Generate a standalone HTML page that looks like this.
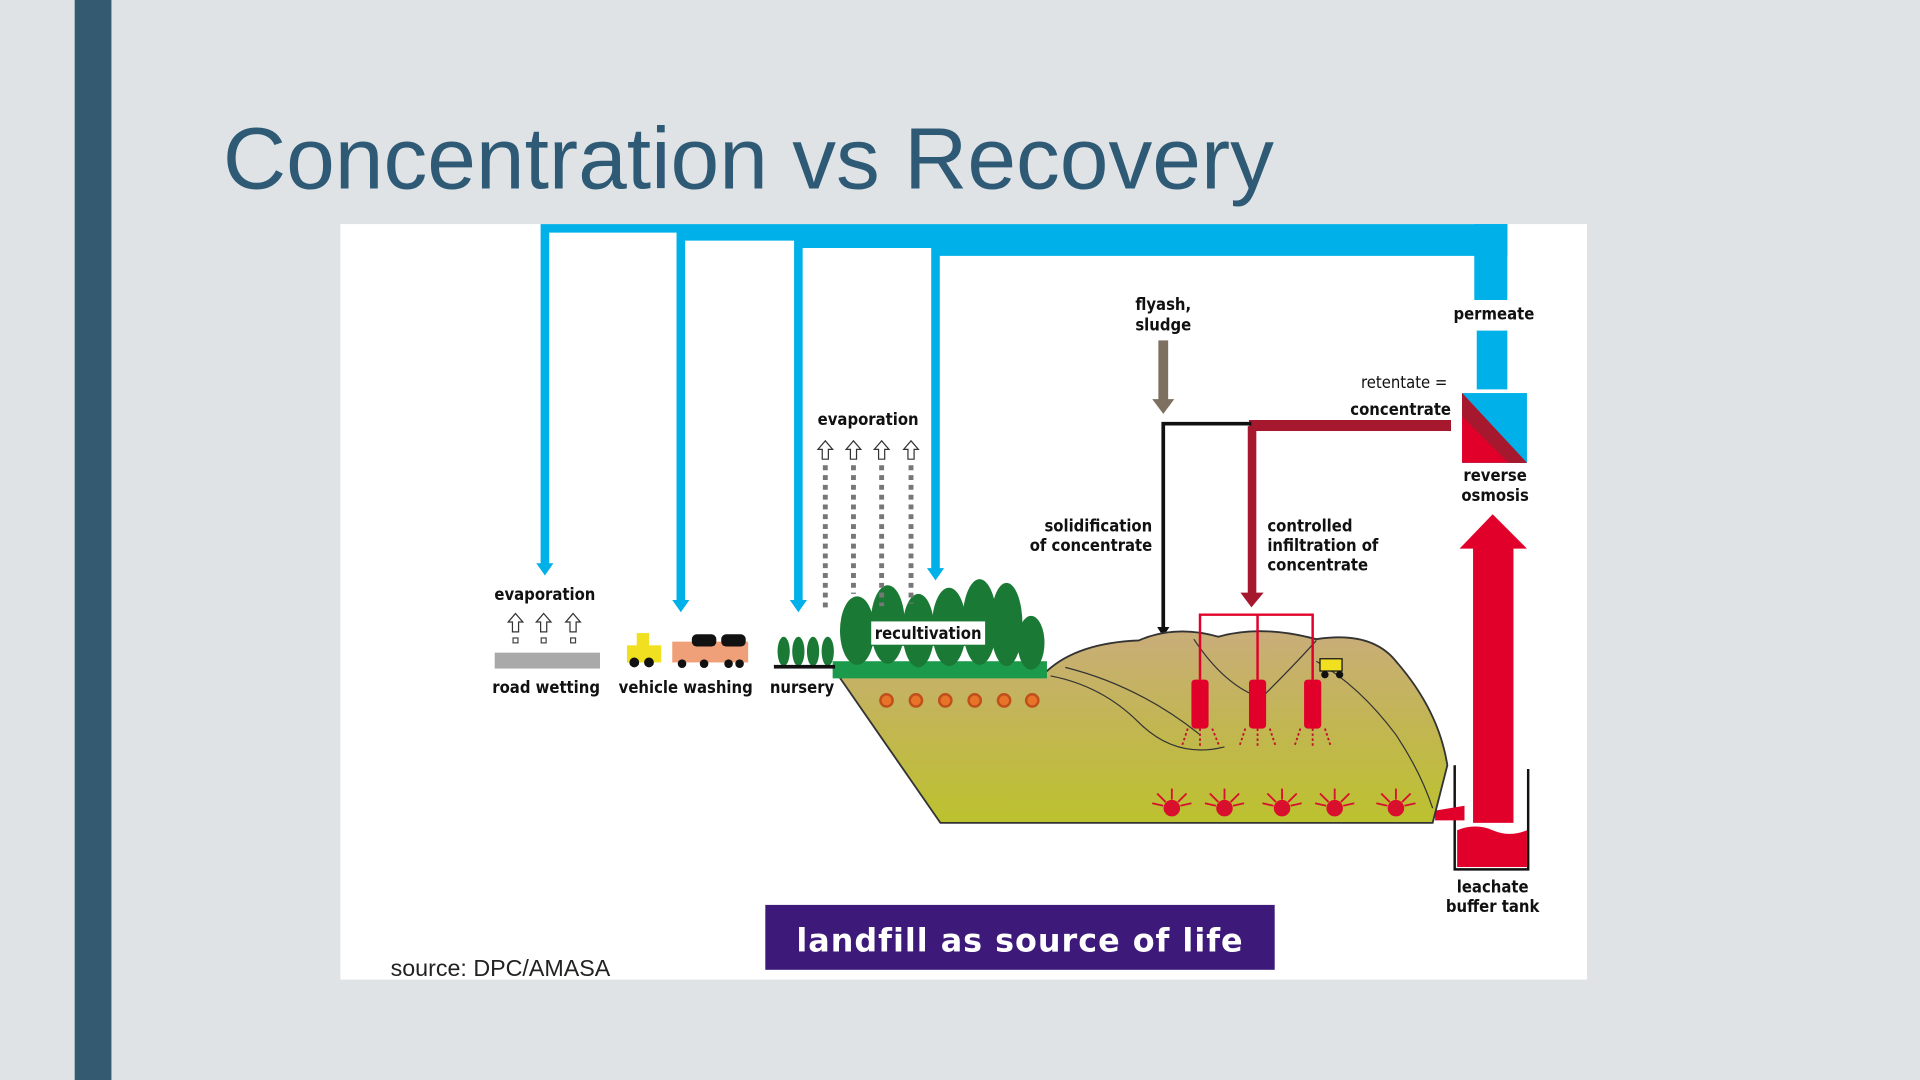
<!DOCTYPE html>
<html><head><meta charset="utf-8"><style>
html,body{margin:0;padding:0;width:1920px;height:1080px;overflow:hidden;background:#dfe3e6}
svg{display:block}
.l{font-family:"DejaVu Sans Condensed","Liberation Sans Narrow","Liberation Sans",sans-serif;font-weight:bold;font-size:13.5px;fill:#111}
</style></head><body>
<svg width="1920" height="1080" viewBox="0 0 1568 882" xmlns="http://www.w3.org/2000/svg">
<defs>
<linearGradient id="lf" x1="0" y1="0" x2="0" y2="1">
<stop offset="0" stop-color="#c9ad7a"/><stop offset="0.5" stop-color="#c2b652"/><stop offset="1" stop-color="#bcc22e"/></linearGradient>
<g id="ua"><path d="M0,-8 L6,-1 L2.5,-1 L2.5,7 L-2.5,7 L-2.5,-1 L-6,-1 Z" fill="#fff" stroke="#333" stroke-width="1"/></g>
<g id="burst" fill="#d8102e" stroke="#d8102e" stroke-width="1.5"><circle r="6"/><line x1="-12" y1="-12" x2="-5" y2="-5"/><line x1="12" y1="-12" x2="5" y2="-5"/><line x1="0" y1="-16" x2="0" y2="-7"/><line x1="-16" y1="-4" x2="-7" y2="-2"/><line x1="16" y1="-4" x2="7" y2="-2"/></g>
</defs>
<rect x="0" y="0" width="1568" height="882" fill="#dfe3e6"/>
<rect x="61" y="0" width="30" height="882" fill="#345a72"/>
<text x="182" y="154" font-family="Liberation Sans,sans-serif" font-size="71.5" fill="#2f5a75">Concentration vs Recovery</text>
<rect x="278" y="183" width="1018" height="617" fill="#fff"/>

<g stroke="#00b0e8" stroke-width="7" fill="none">
<polyline points="445,462 445,186.5 1231,186.5"/>
<polyline points="556,492 556,193 1231,193"/>
<polyline points="652,492 652,199 1231,199"/>
<polyline points="764,466 764,205.5 1231,205.5"/>
</g>
<rect x="1204" y="183" width="27" height="62" fill="#00b0e8"/>
<rect x="1206" y="270" width="25" height="48" fill="#00b0e8"/>
<g fill="#00b0e8">
<polygon points="438,460 452,460 445,470"/><polygon points="549,490 563,490 556,500"/>
<polygon points="645,490 659,490 652,500"/><polygon points="757,464 771,464 764,474"/>
</g>

<rect x="1194" y="321" width="53" height="57" fill="#00b0e8"/>
<polygon points="1194,321 1247,378 1194,378" fill="#e0002a"/>
<polygon points="1194,321 1247,378 1232,378 1194,340" fill="#a6182e"/>
<rect x="1203" y="447" width="33" height="225" fill="#e0002a"/>
<polygon points="1192,448 1247,448 1219,420" fill="#e0002a"/>
<path d="M1190,678 Q1205,672 1219,678 T1247,678 L1247,708 L1190,708 Z" fill="#e0002a"/>
<polyline points="1188,625 1188,710 1248,710 1248,628" fill="none" stroke="#111" stroke-width="2"/>
<path d="M1172,662 L1196,658 L1196,670 L1172,670Z" fill="#e0002a"/>

<rect x="1020" y="343" width="165" height="9" fill="#a6182e"/>
<polyline points="950,518 950,346 1022,346" fill="none" stroke="#111" stroke-width="3"/>
<polygon points="945,512 955,512 950,520" fill="#111"/>
<rect x="1019" y="348" width="7" height="138" fill="#a6182e"/>
<polygon points="1013,484 1032,484 1022,496" fill="#a6182e"/>
<rect x="946" y="278" width="8" height="50" fill="#7d7060"/>
<polygon points="941,326 959,326 950,338" fill="#7d7060"/>

<path d="M680,545 L855,548 Q880,525 930,523 Q960,510 995,520 Q1030,510 1075,522 Q1120,515 1140,540 Q1175,580 1182,625 L1170,672 L768,672 Z" fill="url(#lf)" stroke="#333" stroke-width="1.5"/>
<g fill="none" stroke="#333" stroke-width="1">
<path d="M858,552 Q900,560 930,590 Q960,620 1000,610"/>
<path d="M870,545 Q930,560 980,600"/>
<path d="M975,522 Q1000,560 1030,570 Q1060,540 1075,523"/>
<path d="M1075,540 Q1110,560 1140,600 Q1160,630 1170,660"/>
</g>
<rect x="680" y="540" width="175" height="14" fill="#1a9a4a"/>
<g fill="#1a7a35">
<ellipse cx="700" cy="515" rx="14" ry="28"/><ellipse cx="725" cy="510" rx="14" ry="32"/><ellipse cx="750" cy="515" rx="13" ry="30"/>
<ellipse cx="775" cy="512" rx="14" ry="32"/><ellipse cx="800" cy="508" rx="14" ry="35"/><ellipse cx="822" cy="510" rx="13" ry="34"/>
<ellipse cx="842" cy="525" rx="11" ry="22"/>
<ellipse cx="640" cy="532" rx="5" ry="12"/><ellipse cx="652" cy="532" rx="5" ry="12"/><ellipse cx="664" cy="532" rx="5" ry="12"/><ellipse cx="676" cy="532" rx="5" ry="12"/>
</g>
<rect x="632" y="543" width="50" height="3" fill="#111"/>
<rect x="711" y="507" width="94" height="20" fill="#fff" stroke="#1a7a35"/>
<text class="l" x="758" y="522" text-anchor="middle">recultivation</text>
<g fill="#e8742a" stroke="#c0501a" stroke-width="2">
<circle cx="724" cy="572" r="5"/><circle cx="748" cy="572" r="5"/><circle cx="772" cy="572" r="5"/><circle cx="796" cy="572" r="5"/><circle cx="820" cy="572" r="5"/><circle cx="843" cy="572" r="5"/>
</g>
<polyline points="980,555 980,502 1072,502 1072,555" fill="none" stroke="#e0002a" stroke-width="2"/>
<line x1="1027" y1="502" x2="1027" y2="555" stroke="#e0002a" stroke-width="2"/>
<g fill="#e0002a"><rect x="973" y="555" width="14" height="40" rx="3"/><rect x="1020" y="555" width="14" height="40" rx="3"/><rect x="1065" y="555" width="14" height="40" rx="3"/></g>
<g stroke="#c0102a" stroke-width="1.5" stroke-dasharray="2,2">
<line x1="970" y1="595" x2="965" y2="610"/><line x1="980" y1="595" x2="980" y2="610"/><line x1="990" y1="595" x2="996" y2="610"/>
<line x1="1017" y1="595" x2="1012" y2="610"/><line x1="1027" y1="595" x2="1027" y2="610"/><line x1="1037" y1="595" x2="1042" y2="610"/>
<line x1="1062" y1="595" x2="1057" y2="610"/><line x1="1072" y1="595" x2="1072" y2="610"/><line x1="1082" y1="595" x2="1087" y2="610"/>
</g>
<use href="#burst" x="957" y="660"/><use href="#burst" x="1000" y="660"/><use href="#burst" x="1047" y="660"/><use href="#burst" x="1090" y="660"/><use href="#burst" x="1140" y="660"/>
<g fill="#f0e020" stroke="#111"><rect x="1078" y="538" width="18" height="10"/></g>
<circle cx="1082" cy="551" r="3" fill="#111"/><circle cx="1094" cy="551" r="3" fill="#111"/>

<rect x="404" y="533" width="86" height="13" fill="#a9a9a9"/>
<use href="#ua" x="421" y="509"/><use href="#ua" x="444" y="509"/><use href="#ua" x="468" y="509"/>
<g fill="none" stroke="#444" stroke-width="1"><rect x="419" y="521" width="4" height="4"/><rect x="442" y="521" width="4" height="4"/><rect x="466" y="521" width="4" height="4"/></g>
<rect x="512" y="527" width="28" height="14" fill="#f0e020"/><rect x="520" y="517" width="10" height="12" fill="#f0e020"/>
<circle cx="518" cy="541" r="4" fill="#111"/><circle cx="530" cy="541" r="4" fill="#111"/>
<rect x="549" y="524" width="62" height="17" fill="#f0a078"/><rect x="565" y="518" width="20" height="10" rx="4" fill="#111"/><rect x="589" y="518" width="20" height="10" rx="4" fill="#111"/>
<circle cx="557" cy="542" r="3.5" fill="#111"/><circle cx="575" cy="542" r="3.5" fill="#111"/><circle cx="595" cy="542" r="3.5" fill="#111"/><circle cx="604" cy="542" r="3.5" fill="#111"/>
<use href="#ua" x="674" y="368"/><use href="#ua" x="697" y="368"/><use href="#ua" x="720" y="368"/><use href="#ua" x="744" y="368"/>
<g fill="none" stroke="#777" stroke-dasharray="4,4">
<line x1="674" y1="380" x2="674" y2="500" stroke-width="4"/><line x1="697" y1="380" x2="697" y2="485" stroke-width="4"/><line x1="720" y1="380" x2="720" y2="495" stroke-width="4"/><line x1="744" y1="380" x2="744" y2="493" stroke-width="4"/>
</g>

<text class="l" x="445" y="490" text-anchor="middle">evaporation</text>
<text class="l" x="446" y="566" text-anchor="middle">road wetting</text>
<text class="l" x="560" y="566" text-anchor="middle">vehicle washing</text>
<text class="l" x="655" y="566" text-anchor="middle">nursery</text>
<text class="l" x="709" y="347" text-anchor="middle">evaporation</text>
<text class="l" x="950" y="253" text-anchor="middle">flyash,</text>
<text class="l" x="950" y="270" text-anchor="middle">sludge</text>
<text class="l" x="1220" y="261" text-anchor="middle">permeate</text>
<text class="l" x="1182" y="317" text-anchor="end" style="font-weight:normal">retentate =</text>
<text class="l" x="1185" y="339" text-anchor="end">concentrate</text>
<text class="l" x="1221" y="393" text-anchor="middle">reverse</text>
<text class="l" x="1221" y="409" text-anchor="middle">osmosis</text>
<text class="l" x="941" y="434" text-anchor="end">solidification</text>
<text class="l" x="941" y="450" text-anchor="end">of concentrate</text>
<text class="l" x="1035" y="434">controlled</text>
<text class="l" x="1035" y="450">infiltration of</text>
<text class="l" x="1035" y="466">concentrate</text>
<text class="l" x="1219" y="729" text-anchor="middle">leachate</text>
<text class="l" x="1219" y="745" text-anchor="middle">buffer tank</text>
<rect x="625" y="739" width="416" height="53" fill="#3d1a7a"/>
<text x="833" y="777" text-anchor="middle" font-family="DejaVu Sans,Liberation Sans,sans-serif" font-weight="bold" font-size="26" fill="#fff" letter-spacing="0.8">landfill as source of life</text>
<text x="319" y="797" font-family="Liberation Sans,sans-serif" font-size="19" fill="#222">source: DPC/AMASA</text>
</svg>
</body></html>
